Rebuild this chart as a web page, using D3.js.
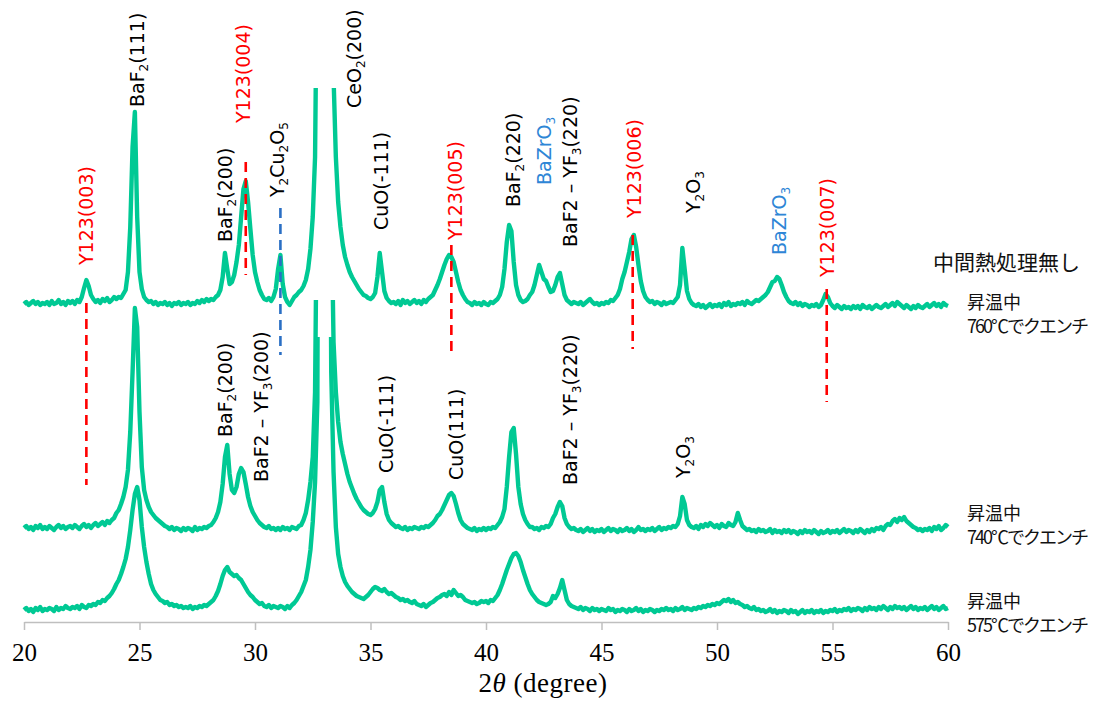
<!DOCTYPE html>
<html>
<head>
<meta charset="utf-8">
<script src="https://cdn.jsdelivr.net/npm/d3@7"></script>
<style>
  body { margin: 0; background: #fff; }
  svg { display: block; }
  .serif { font-family: "Times New Roman", "Liberation Serif", "DejaVu Serif", serif; }
</style>
</head>
<body>
<script>
// scan grid of the diffractometer (2theta, degree)
const twoThetaStart = 20, twoThetaStep = 0.1;

// intensities (a.u.), one value per step
const int575 = [
  12,14,11,13,10,14,12,15,11,13, 12,14,13,11,15,12,14,13,16,14,
  13,15,14,16,13,17,15,14,17,16, 18,17,20,19,22,21,24,26,29,33,
  38,42,48,55,63,75,92,112,128,135, 122,95,75,60,48,38,32,28,25,22,
  21,19,20,17,18,16,17,15,16,14, 15,14,16,13,15,14,16,15,17,16,
  18,20,22,26,31,38,46,52,55,50, 48,46,47,44,42,38,34,30,27,25,
  22,20,18,19,16,15,17,14,16,15, 14,16,15,13,16,14,17,19,22,26,
  30,36,42,55,72,100,140,220,1000,3000, 3000,2000,700,250,150,95,68,55,46,40,
  36,33,30,28,26,25,24,23,25,27, 30,33,35,34,32,31,33,30,28,29,
  27,25,24,22,23,21,22,20,19,21, 18,17,16,18,15,17,19,20,22,24,
  25,27,28,26,30,27,32,29,26,27, 25,22,21,20,19,20,18,19,21,20,
  21,19,22,21,24,27,32,38,45,52, 58,64,68,69,66,60,52,45,38,32,
  28,25,22,20,19,18,17,18,20,26, 24,28,34,42,32,22,18,16,15,14,
  13,15,12,14,13,11,14,12,13,11, 13,12,11,14,12,13,10,12,11,13,
  12,10,13,11,12,14,11,13,10,12, 11,13,12,10,12,11,13,12,14,12,
  13,11,14,12,13,15,12,14,13,12, 14,13,15,14,16,15,17,16,18,17,
  19,18,20,22,21,23,20,22,19,20, 18,17,15,16,14,13,15,12,13,11,
  12,10,11,13,10,12,9,11,10,12, 11,9,12,10,11,8,10,12,9,11,
  10,12,9,11,10,12,9,11,10,12, 11,13,10,12,11,13,12,14,11,13,
  12,14,13,11,14,12,15,13,14,12, 15,13,16,14,12,15,13,16,14,15,
  13,15,12,14,16,13,15,12,14,13, 15,12,14,16,13,15,12,14,16,13,
  14
];
const int740 = [
  14,16,13,15,12,16,14,17,13,15, 13,16,14,12,15,17,14,16,13,15,
  16,14,17,15,13,16,18,15,17,14, 17,19,16,18,20,17,21,19,22,24,
  29,32,38,45,55,72,110,170,234,215, 130,75,52,42,35,30,27,24,22,20,
  18,16,15,13,15,12,14,13,11,14, 12,14,13,11,15,12,14,13,15,14,
  16,17,20,24,30,40,58,85,97,68, 52,49,55,68,74,70,58,45,36,30,
  26,22,19,17,15,14,16,13,14,12, 14,12,15,13,14,12,15,14,13,16,
  17,22,29,42,60,85,150,400,2000,3000, 3000,2000,700,350,200,150,120,100,88,78,
  68,60,54,48,43,39,35,32,30,28, 27,29,33,40,52,55,40,28,22,19,
  17,15,16,14,13,15,12,14,13,15, 14,13,15,14,16,15,17,19,22,26,
  28,32,37,42,47,49,46,38,29,22, 18,16,14,13,12,14,11,13,12,14,
  12,14,13,15,14,17,20,25,33,55, 85,110,114,88,55,38,28,22,18,15,
  15,13,14,12,15,14,16,15,18,24, 28,35,40,36,24,18,15,13,14,12,
  11,13,10,12,14,11,13,10,12,11, 13,10,12,14,11,13,12,10,13,11,
  12,14,11,13,10,12,15,12,13,11, 13,12,14,11,13,15,12,14,13,15,
  14,16,15,18,26,45,38,22,17,15, 14,16,13,17,15,18,16,19,17,15,
  17,14,18,16,15,19,17,16,20,29, 22,16,14,12,13,11,12,10,13,11,
  12,10,11,13,9,12,10,11,9,12, 10,12,9,11,10,8,11,9,12,10,
  11,9,12,10,8,11,9,10,12,9, 11,10,12,9,11,13,10,12,11,9,
  12,10,13,11,9,12,10,13,11,14, 13,15,12,16,18,17,21,23,20,24,
  22,25,21,19,17,15,14,12,13,11, 13,12,14,11,15,13,16,12,14,17,
  15
];
const int760 = [
  13,15,12,14,16,13,15,12,14,13, 15,12,16,13,14,17,13,15,12,16,
  14,16,13,17,15,20,29,37,31,22, 18,15,17,14,18,16,19,15,17,20,
  18,20,19,23,27,45,90,170,205,100, 45,28,20,17,15,16,13,15,12,14,
  13,15,12,14,11,14,13,15,12,14, 13,15,12,14,13,16,14,17,15,18,
  16,18,17,20,22,27,40,64,48,33, 35,42,55,72,100,128,136,115,88,62,
  45,35,27,22,18,17,19,16,20,28, 48,62,33,20,15,12,16,20,22,25,
  27,31,37,48,68,100,160,400,2000,3000, 3000,2000,1200,600,240,160,115,90,72,60,
  52,45,40,36,32,28,25,22,21,19, 18,20,24,40,64,45,26,19,16,14,
  15,13,16,12,17,14,16,13,15,17, 14,16,13,17,15,18,20,22,27,32,
  38,45,52,58,62,60,55,45,35,27, 22,18,15,14,12,15,13,14,12,15,
  13,12,15,14,16,18,22,30,48,75, 92,86,55,32,22,17,15,16,18,22,
  25,32,42,52,45,38,36,30,25,26, 32,40,44,33,22,17,15,13,15,14,
  13,15,12,14,16,18,15,13,14,12, 14,13,15,14,17,16,19,22,28,38,
  45,55,65,78,82,70,52,36,26,20, 17,15,16,13,15,14,12,15,13,14,
  15,14,17,20,32,69,48,26,18,14, 12,11,13,10,12,9,11,13,10,12,
  11,13,10,14,12,15,11,13,12,14, 13,15,12,16,14,13,15,17,16,18,
  20,22,25,30,35,36,40,38,32,25, 20,16,14,13,15,12,14,11,13,12,
  10,12,11,13,10,12,17,23,20,14, 11,9,12,10,8,11,9,10,8,11,
  9,11,8,12,10,9,11,8,10,12, 10,9,11,13,10,12,14,11,15,13,
  11,9,12,10,8,11,9,12,10,9, 11,13,10,12,14,11,13,10,14,12,
  11
];

const seriesValues = [int575, int740, int760];
const seriesOffsets = [0, 80, 305];        // vertical stacking (a.u.)
const seriesCeilings = [285, 242, 229];    // highest drawn intensity per pattern
const seriesLabels = [
  ["昇温中", "575℃でクエンチ"],
  ["昇温中", "740℃でクエンチ"],
  ["昇温中", "760℃でクエンチ"]
];
const seriesLabelLevels = [22, 110, 321];
const groupTitle = "中間熱処理無し";

const xTicks = [20, 25, 30, 35, 40, 45, 50, 55, 60];

// peak labels: [text, 2theta, level (a.u.), kind]   "_n" = subscript
const peakLabels = [
  ["Y123(003)", 22.68, 357, "y123"],
  ["BaF_2(111)", 24.89, 515, "other"],
  ["BaF_2(200)", 28.70, 380, "other"],
  ["Y123(004)", 29.48, 499, "y123"],
  ["Y_2Cu_2O_5", 30.95, 425, "other"],
  ["CeO_2(200)", 34.30, 514, "other"],
  ["CuO(-111)", 35.45, 392, "other"],
  ["Y123(005)", 38.66, 382, "y123"],
  ["BaF_2(220)", 41.17, 415, "other"],
  ["BaZrO_3", 42.51, 437, "bzo"],
  ["BaF2 – YF_3(220)", 43.64, 375, "other"],
  ["Y123(006)", 46.41, 404, "y123"],
  ["Y_2O_3", 48.95, 409, "other"],
  ["BaZrO_3", 52.68, 367, "bzo"],
  ["Y123(007)", 54.76, 345, "y123"],
  ["BaF_2(200)", 28.70, 185, "other"],
  ["BaF2 – YF_3(200)", 30.26, 140, "other"],
  ["CuO(-111)", 35.67, 149, "other"],
  ["CuO(111)", 38.70, 142, "other"],
  ["BaF2 – YF_3(220)", 43.64, 137, "other"],
  ["Y_2O_3", 48.53, 144, "other"]
];

// reference markers: [2theta, from, to, kind]
const markers = [
  [22.70, 319, 137, "y123"],
  [29.60, 460, 347, "y123"],
  [31.10, 414, 267, "bzo"],
  [38.50, 377, 267, "y123"],
  [46.35, 387, 273, "y123"],
  [54.75, 333, 220, "y123"]
];

const W = 1095, H = 702;
const green = "#00c994";
const kindColor = {y123: "#ff0000", bzo: "#2e86d6", other: "#000"};
const markerColor = {y123: "#ff0000", bzo: "#2a6fc4"};

const svg = d3.select("body").append("svg")
  .attr("width", W).attr("height", H);

const x = d3.scaleLinear().domain([20, 60]).range([24, 948]);
const y = d3.scaleLinear().domain([0, 550]).range([622, 72]);

// patterns
const defs = svg.append("defs");
seriesValues.forEach(function(vals, s) {
  defs.append("clipPath").attr("id", "clip" + s)
    .append("rect")
    .attr("x", 0).attr("width", W)
    .attr("y", y(seriesOffsets[s] + seriesCeilings[s]))
    .attr("height", H);

  const line = d3.line()
    .x((d, i) => x(twoThetaStart + i * twoThetaStep))
    .y(d => y(seriesOffsets[s] + d));

  svg.append("path")
    .datum(vals)
    .attr("clip-path", "url(#clip" + s + ")")
    .attr("d", line)
    .attr("fill", "none")
    .attr("stroke", green)
    .attr("stroke-width", 4.4)
    .attr("stroke-linejoin", "round");
});

// dashed reference markers
svg.append("g").selectAll("line")
  .data(markers)
  .join("line")
  .attr("x1", d => x(d[0])).attr("x2", d => x(d[0]))
  .attr("y1", d => y(d[1])).attr("y2", d => y(d[2]))
  .attr("stroke", d => markerColor[d[3]])
  .attr("stroke-width", 2.6)
  .attr("stroke-dasharray", "10,6");

// peak labels (rotated)
const lab = svg.append("g")
  .style("font-family", "'DejaVu Sans', sans-serif")
  .style("font-size", "19px");

peakLabels.forEach(function(p) {
  const t = lab.append("text")
    .attr("transform", `translate(${x(p[1])},${y(p[2])}) rotate(-90)`)
    .attr("dy", "0.36em")
    .attr("fill", kindColor[p[3]]);
  const parts = p[0].split(/(_\d)/).filter(s => s.length);
  let shifted = false;
  parts.forEach(function(part) {
    if (part[0] === "_") {
      t.append("tspan").style("font-size", "12px").attr("dy", 4).text(part.slice(1));
      shifted = true;
    } else {
      const ts = t.append("tspan").text(part);
      if (shifted) { ts.attr("dy", -4); shifted = false; }
    }
  });
});

// series names
const names = svg.append("g")
  .style("font-family", "'Noto Sans CJK JP', sans-serif")
  .attr("fill", "#111");

names.append("text")
  .attr("x", 933).attr("y", y(seriesOffsets[2] + 56))
  .attr("dominant-baseline", "central")
  .style("font-size", "21px")
  .text(groupTitle);

seriesLabels.forEach(function(l, s) {
  names.append("text")
    .attr("x", 967).attr("y", y(seriesLabelLevels[s]))
    .attr("dominant-baseline", "central")
    .style("font-size", "18px")
    .text(l[0]);
  names.append("text")
    .attr("x", 967).attr("y", y(seriesLabelLevels[s] - 24))
    .attr("dominant-baseline", "central")
    .style("font-size", "18px")
    .style("letter-spacing", "-2px")
    .text(l[1]);
});

// x axis
const xAxis = d3.axisBottom(x)
  .tickValues(xTicks)
  .tickSize(8)
  .tickSizeOuter(0)
  .tickPadding(13);

const ax = svg.append("g")
  .attr("transform", `translate(0,${y(0)})`)
  .call(xAxis);
ax.attr("font-family", null).attr("font-size", null);
ax.select(".domain").attr("stroke", "#bfbfbf").attr("stroke-width", 1.5);
ax.selectAll(".tick line").attr("stroke", "#bfbfbf").attr("stroke-width", 1.5);
ax.selectAll(".tick text")
  .classed("serif", true)
  .style("font-size", "25px")
  .attr("fill", "#000");

const title = svg.append("text")
  .classed("serif", true)
  .attr("x", 543).attr("y", 692)
  .attr("text-anchor", "middle")
  .style("font-size", "27px")
  .style("letter-spacing", "0.5px");
title.append("tspan").text("2");
title.append("tspan").style("font-style", "italic").text("θ");
title.append("tspan").text(" (degree)");
</script>
</body>
</html>
